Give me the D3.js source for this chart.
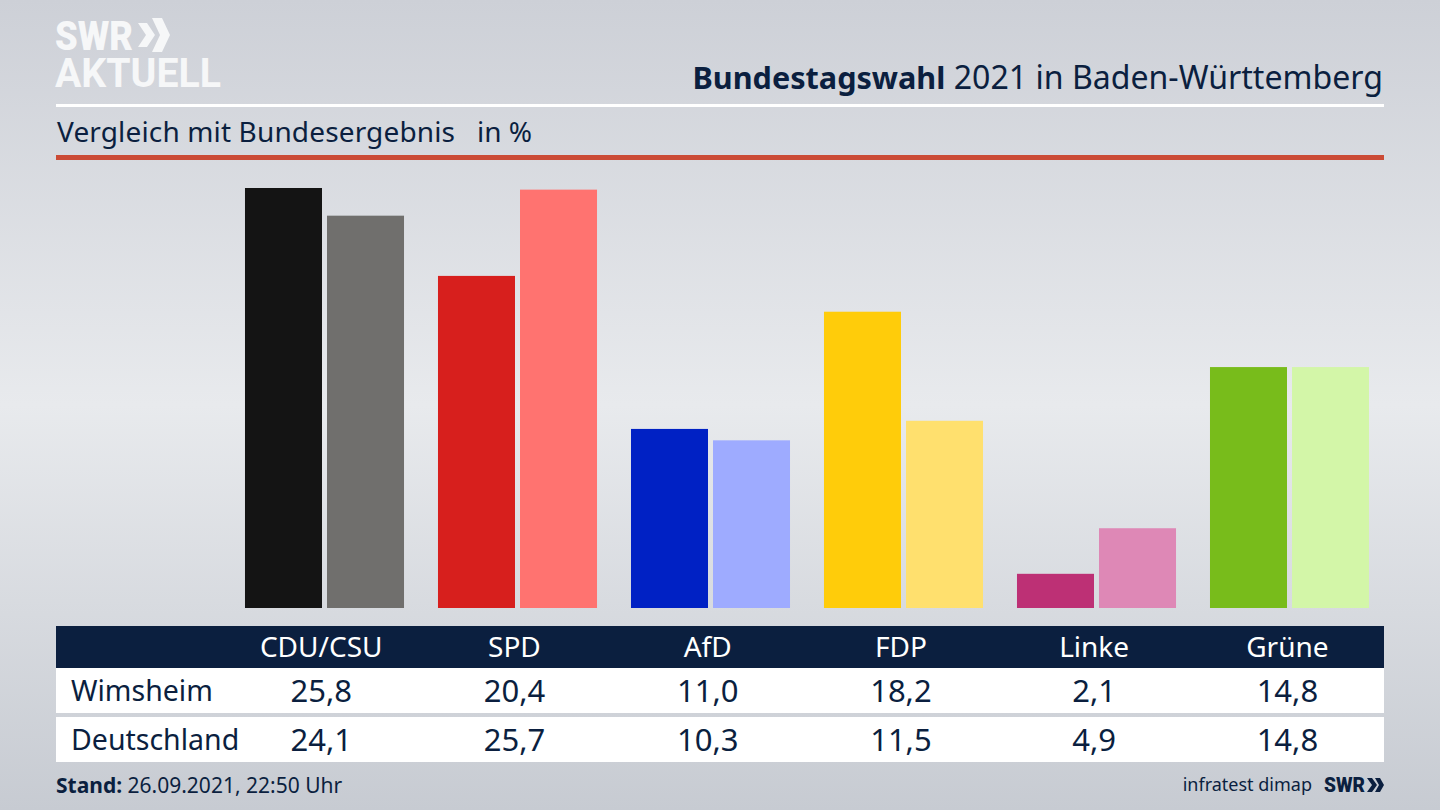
<!DOCTYPE html>
<html>
<head>
<meta charset="utf-8">
<script src="https://cdn.jsdelivr.net/npm/d3@7"></script>
<style>
  html, body { margin: 0; padding: 0; background: #d5d8de; overflow: hidden; }
  text { font-family: "Noto Sans", sans-serif; }
</style>
</head>
<body>
<svg id="chart" width="1440" height="810"></svg>
<script>
const parties = ['CDU/CSU', 'SPD', 'AfD', 'FDP', 'Linke', 'Grüne'];
const wimsheim = [25.8, 20.4, 11.0, 18.2, 2.1, 14.8];
const deutschland = [24.1, 25.7, 10.3, 11.5, 4.9, 14.8];
const colorsLocal = ['#141414', '#d71f1d', '#0021c4', '#ffcc0a', '#bd3075', '#78bc1b'];
const colorsFederal = ['#706f6d', '#ff7370', '#9eabff', '#ffe06e', '#de88b6', '#d3f6a8'];

const navy = '#0b1f3f';
const fmt = v => v.toFixed(1).replace('.', ',');

const svg = d3.select('#chart');

// background
const defs = svg.append('defs');
const bg = defs.append('linearGradient').attr('id', 'bg')
  .attr('x1', 0).attr('y1', 0).attr('x2', 0).attr('y2', 1);
bg.append('stop').attr('offset', '0%').attr('stop-color', '#cdd0d7');
bg.append('stop').attr('offset', '50%').attr('stop-color', '#e8eaed');
bg.append('stop').attr('offset', '100%').attr('stop-color', '#c7cbd2');
svg.append('rect').attr('width', 1440).attr('height', 810).attr('fill', 'url(#bg)');

// logo top left
svg.append('text').attr('x', 55).attr('y', 50).text('SWR')
  .attr('fill', '#f6f7f8').style('font-size', '41px').style('font-weight', 900)
  .style('font-family', 'Roboto').attr('textLength', 78).attr('lengthAdjust', 'spacingAndGlyphs');
svg.append('text').attr('x', 55).attr('y', 87).text('AKTUELL')
  .attr('fill', '#f6f7f8').style('font-size', '41px').style('font-weight', 700)
  .style('font-family', 'Roboto').attr('textLength', 166).attr('lengthAdjust', 'spacingAndGlyphs');
const chevron = (g, x, y, h, w, t, fill) => {
  g.append('path').attr('fill', fill)
    .attr('d', `M${x},${y} h${t} l${w},${h / 2} l${-w},${h / 2} h${-t} l${w},${-h / 2} z`);
};
const logo = svg.append('g');
chevron(logo, 138, 23, 24, 8, 9, '#f6f7f8');
chevron(logo, 152, 18, 34, 8, 10, '#f6f7f8');

// header
const title = svg.append('text').attr('x', 1383).attr('y', 89).attr('text-anchor', 'end')
  .attr('fill', navy);
title.append('tspan').text('Bundestagswahl').style('font-weight', 700).style('font-size', '30.6px');
title.append('tspan').text(' 2021 in Baden-Württemberg').style('font-size', '32.1px');

svg.append('rect').attr('x', 56).attr('y', 104).attr('width', 1328).attr('height', 3).attr('fill', '#ffffff');
svg.append('text').attr('x', 57).attr('y', 142).attr('fill', navy).style('font-size', '28px')
  .text('Vergleich mit Bundesergebnis').attr('textLength', 398);
svg.append('text').attr('x', 477).attr('y', 142).attr('fill', navy).style('font-size', '28px').text('in %');
svg.append('rect').attr('x', 56).attr('y', 155).attr('width', 1328).attr('height', 5).attr('fill', '#cb4b36');

// scales, the bars sit a little right of the table columns
const x = d3.scaleBand().domain(parties).range([228, 1386]).paddingInner(0.176).paddingOuter(0.088);
const labelX = d3.scaleBand().domain(parties).range([224.6, 1384]);
const inner = d3.scaleBand().domain([0, 1]).range([0, x.bandwidth()]).paddingInner(0.061);
const y = d3.scaleLinear().domain([0, 25.8]).range([608, 188]);

// bars
const rows = parties.map((p, i) => ({ p, i, a: wimsheim[i], b: deutschland[i] }));
const groups = svg.append('g').selectAll('g').data(rows).join('g')
  .attr('transform', d => `translate(${x(d.p)},0)`);
groups.append('rect')
  .attr('x', inner(0)).attr('width', inner.bandwidth())
  .attr('y', d => y(d.a)).attr('height', d => y(0) - y(d.a))
  .attr('fill', d => colorsLocal[d.i]);
groups.append('rect')
  .attr('x', inner(1)).attr('width', inner.bandwidth())
  .attr('y', d => y(d.b)).attr('height', d => y(0) - y(d.b))
  .attr('fill', d => colorsFederal[d.i]);

// table
svg.append('rect').attr('x', 56).attr('y', 626).attr('width', 1328).attr('height', 42).attr('fill', navy);
svg.append('rect').attr('x', 56).attr('y', 668).attr('width', 1328).attr('height', 45).attr('fill', '#ffffff');
svg.append('rect').attr('x', 56).attr('y', 717).attr('width', 1328).attr('height', 45).attr('fill', '#ffffff');

const cx = p => labelX(p) + labelX.bandwidth() / 2;
svg.append('g').selectAll('text').data(parties).join('text')
  .attr('x', cx).attr('y', 657).attr('text-anchor', 'middle')
  .attr('fill', '#ffffff').style('font-size', '28px').text(d => d);

const tableRows = [['Wimsheim', wimsheim, 701], ['Deutschland', deutschland, 750]];
tableRows.forEach(([label, vals, base]) => {
  svg.append('text').attr('x', 71).attr('y', base).attr('fill', navy)
    .style('font-size', '28.5px').text(label);
  svg.append('g').selectAll('text').data(vals).join('text')
    .attr('x', (d, i) => cx(parties[i])).attr('y', base + 1).attr('text-anchor', 'middle')
    .attr('fill', navy).style('font-size', '31px').text(fmt);
});

// footer
const stand = svg.append('text').attr('x', 56).attr('y', 793).attr('fill', navy).style('font-size', '21px');
stand.append('tspan').text('Stand:').style('font-weight', 700);
stand.append('tspan').text(' 26.09.2021, 22:50 Uhr');
svg.append('text').attr('x', 1312).attr('y', 791).attr('text-anchor', 'end').attr('fill', navy)
  .style('font-size', '18px').text('infratest dimap');
svg.append('text').attr('x', 1324).attr('y', 792).attr('fill', navy)
  .style('font-size', '21px').style('font-weight', 900).style('font-family', 'Roboto')
  .attr('textLength', 41).attr('lengthAdjust', 'spacingAndGlyphs').text('SWR');
chevron(logo, 1367, 778, 14, 5, 5, navy);
chevron(logo, 1375, 778, 14, 4, 5, navy);
</script>
</body>
</html>
